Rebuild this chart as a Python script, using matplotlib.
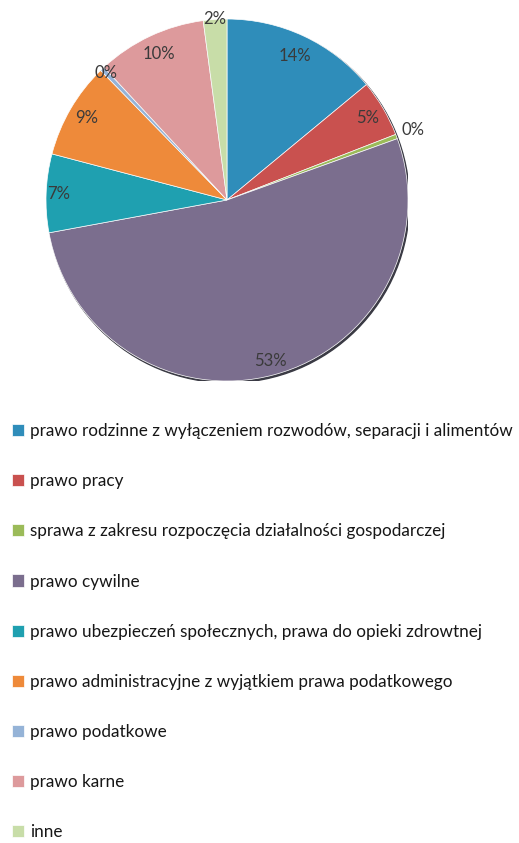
import numpy as np
import matplotlib
matplotlib.use("Agg")
import matplotlib.pyplot as plt
from matplotlib.patches import Circle

plt.rcParams['font.family'] = ['Lato', 'DejaVu Sans']

# categories and shares (percent)
categories = [
    "prawo rodzinne z wyłączeniem rozwodów, separacji i alimentów",
    "prawo pracy",
    "sprawa z zakresu rozpoczęcia działalności gospodarczej",
    "prawo cywilne",
    "prawo ubezpieczeń społecznych, prawa do opieki zdrowtnej",
    "prawo administracyjne z wyjątkiem prawa podatkowego",
    "prawo podatkowe",
    "prawo karne",
    "inne",
]
shares = [14.0, 5.1, 0.4, 52.6, 7.0, 8.6, 0.4, 9.8, 2.1]

colors = ["#2f8dba", "#c9514f", "#9bbb59", "#7b6e8e", "#1fa0b0",
          "#ee8a3a", "#95b3d7", "#dd9a9c", "#c8dda8"]
# radial position of each percentage label (fraction of radius)
label_r = [0.88, 0.90, 1.10, 0.92, 0.93, 0.90, 0.97, 0.89, 1.0]

W, H = 519, 843
fig = plt.figure(figsize=(W / 100, H / 100), dpi=100)
cx, cy, r = 227, 200, 181
ax = fig.add_axes([(cx - r) / W, 1 - (cy + r) / H, 2 * r / W, 2 * r / H])

# soft shadow like the Excel chart
ax.add_patch(Circle((0.008, -0.01), 1.0, color="#3a3a44", zorder=0))

wedges, _ = ax.pie(shares, colors=colors, startangle=90, counterclock=False,
                   radius=1.0, wedgeprops=dict(edgecolor="white", linewidth=0.5))
for w in wedges:
    w.set_zorder(1)
ax.set_xlim(-1, 1)
ax.set_ylim(-1, 1)
ax.set_aspect('equal')
ax.axis('off')

for w, s, lr in zip(wedges, shares, label_r):
    mid = np.deg2rad((w.theta1 + w.theta2) / 2)
    ax.text(lr * np.cos(mid), lr * np.sin(mid), f"{round(s):.0f}%",
            ha='center', va='center', fontsize=12, color="#3a3a3a", zorder=3)

leg = fig.legend(wedges, categories, loc='upper left',
                 bbox_to_anchor=(12 / W, 1 - 423 / H), frameon=False,
                 fontsize=12.3, labelspacing=2.0, handlelength=0.72,
                 handleheight=0.72, handletextpad=0.35, borderpad=0,
                 borderaxespad=0)
for t in leg.get_texts():
    t.set_color("#161616")

fig.savefig("out.png", dpi=100)
